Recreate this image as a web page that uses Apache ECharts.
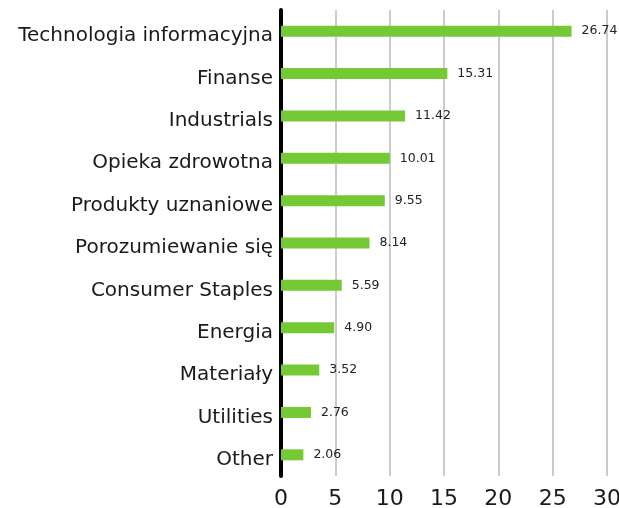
<!DOCTYPE html>
<html>
<head>
<meta charset="utf-8">
<script src="https://cdn.jsdelivr.net/npm/echarts@6/dist/echarts.min.js"></script>
<style>
  html, body { margin: 0; padding: 0; background: #fff; }
  #chart { width: 619px; height: 508px; }
</style>
</head>
<body>
<div id="chart"></div>
<script>
// sectors, top to bottom
const categories = [
  'Technologia informacyjna', 'Finanse', 'Industrials', 'Opieka zdrowotna',
  'Produkty uznaniowe', 'Porozumiewanie się', 'Consumer Staples', 'Energia',
  'Materiały', 'Utilities', 'Other'
]
const weights = [26.74, 15.31, 11.42, 10.01, 9.55, 8.14, 5.59, 4.90, 3.52, 2.76, 2.06]
const xTicks = [0, 5, 10, 15, 20, 25, 30]

const myChart = echarts.init(document.getElementById('chart'))
const option = {
  animation: false,
  textStyle: { fontFamily: 'DejaVu Sans' },
  grid: {
    left: 281,
    right: 12,
    top: 10,
    bottom: 32,
    outerBoundsMode: 'none'
  },
  xAxis: {
    type: 'value',
    min: xTicks[0],
    max: xTicks[xTicks.length - 1],
    interval: 5,
    axisLine: { show: false },
    axisTick: { show: false },
    axisLabel: {
      color: '#1a1a1a',
      fontSize: 22,
      margin: 12
    },
    splitLine: {
      lineStyle: { color: '#cccccc', width: 2 }
    }
  },
  yAxis: {
    type: 'category',
    inverse: true,
    data: categories,
    axisLine: { show: true, lineStyle: { color: '#000', width: 4 } },
    axisTick: { show: false },
    axisLabel: {
      color: '#1a1a1a',
      fontSize: 20,
      margin: 8,
      // labels sit a little below the bar centre
      verticalAlign: 'top',
      lineHeight: 10
    }
  },
  series: [
    {
      type: 'bar',
      data: weights,
      barWidth: 11,
      itemStyle: { color: '#74c935' },
      label: {
        show: true,
        position: 'right',
        distance: 10,
        color: '#222',
        fontSize: 12.5,
        formatter: p => p.value.toFixed(2)
      }
    }
  ]
}
myChart.setOption(option)
</script>
</body>
</html>
